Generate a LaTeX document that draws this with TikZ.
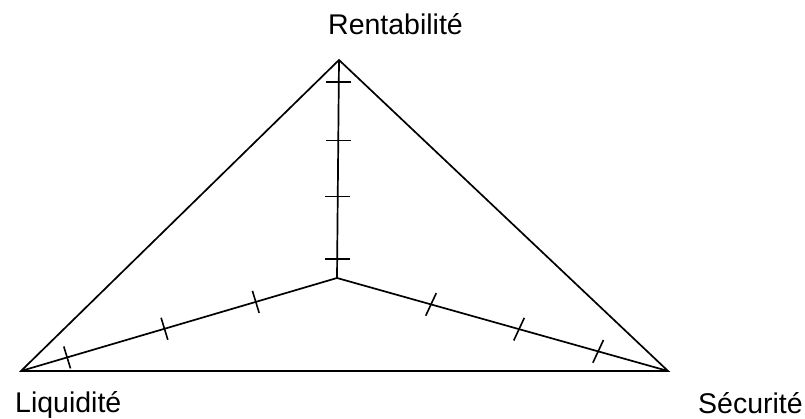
\documentclass[tikz,border=0pt]{standalone}
\usepackage{fontspec}
\setmainfont{Liberation Sans}
\usetikzlibrary{calc}
\tikzset{
  edge/.style={line width=1.7pt, line join=miter},
  tickmark/.style={line width=1.6pt},
  lbl/.style={anchor=base west, inner sep=0pt, font=\fontsize{28.5}{32}\selectfont}
}
\begin{document}
\begin{tikzpicture}[x=1pt,y=1pt]
\useasboundingbox (0,0) rectangle (805,419);
\coordinate (A) at (339,359);
\coordinate (L) at (21,48);
\coordinate (S) at (668,48);
\coordinate (O) at (337,141);
\draw[edge] (L) -- (A) -- (S) -- cycle;
\draw[edge] (A) -- (O);
\draw[edge] (L) -- (O) -- (S);
% ticks on vertical
\foreach \t in {0.102,0.37,0.627,0.913}{
  \draw[tickmark] ($(A)!\t!(O)+(-12.5,0)$) -- ($(A)!\t!(O)+(12.5,0)$);
}
% ticks on left
\foreach \t in {0.146,0.454,0.743}{
  \draw[tickmark] ($(L)!\t!(O)+(107:11.5)$) -- ($(L)!\t!(O)+(287:11.5)$);
}
% ticks on right
\foreach \t in {0.284,0.55,0.789}{
  \draw[tickmark] ($(O)!\t!(S)+(65:12.5)$) -- ($(O)!\t!(S)+(245:12.5)$);
}
\node[lbl] (rent) at (328,384) {Rentabilité};
\node[lbl] (liq) at (15,6) {Liquidité};
\node[lbl] (sec) at (698,5) {Sécurité};
\end{tikzpicture}
\end{document}
